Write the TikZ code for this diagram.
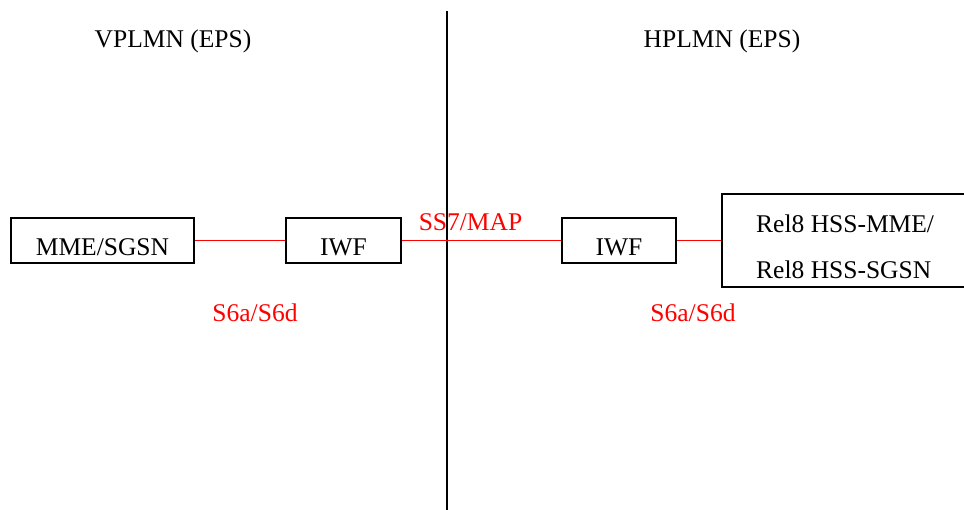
\documentclass[tikz,border=0pt]{standalone}
\usepackage{fontspec}
\setmainfont{Liberation Serif}
\begin{document}
\begin{tikzpicture}[x=1pt,y=-1pt,
  every node/.style={font=\fontsize{25.5}{30}\selectfont},
  netbox/.style={draw=black,line width=2pt,inner sep=0pt,text height=31pt,text depth=0pt},
  redlink/.style={draw=red,line width=1.8pt},
  redlabel/.style={text=red,anchor=base,inner sep=0pt},
  title/.style={anchor=base,inner sep=0pt}]
\useasboundingbox (0,0) rectangle (964,510);
% divider
\coordinate (dtop) at (447,11);
\coordinate (dbot) at (447,512);
\draw[line width=1.8pt] (dtop) -- (dbot);
% titles
\node[title] (vp) at (173,48) {VPLMN (EPS)};
\node[title] (hp) at (722,48) {HPLMN (EPS)};
% boxes
\node[netbox,minimum width=183pt,minimum height=45pt] (mme) at (102.5,240.5) {MME/SGSN};
\node[netbox,minimum width=115pt,minimum height=45pt] (iwfa) at (343.5,240.5) {IWF};
\node[netbox,minimum width=114pt,minimum height=45pt] (iwfb) at (619,240.5) {IWF};
\node[draw=black,line width=2pt,inner sep=0pt,minimum width=260pt,minimum height=93pt] (hss) at (852,240.5) {};
\node[anchor=base west,inner sep=0pt] (hss1) at (756,233) {Rel8 HSS-MME/};
\node[anchor=base west,inner sep=0pt] (hss2) at (756,279) {Rel8 HSS-SGSN};
% links
\draw[redlink] (mme.east) -- (iwfa.west);
\draw[redlink] (iwfa.east) -- (iwfb.west);
\draw[redlink] (iwfb.east) -- (hss.west);
% labels
\node[redlabel] (ss7) at (470.5,231) {SS7/MAP};
\node[redlabel] (s6l) at (255,322) {S6a/S6d};
\node[redlabel] (s6r) at (693,322) {S6a/S6d};
\end{tikzpicture}
\end{document}
